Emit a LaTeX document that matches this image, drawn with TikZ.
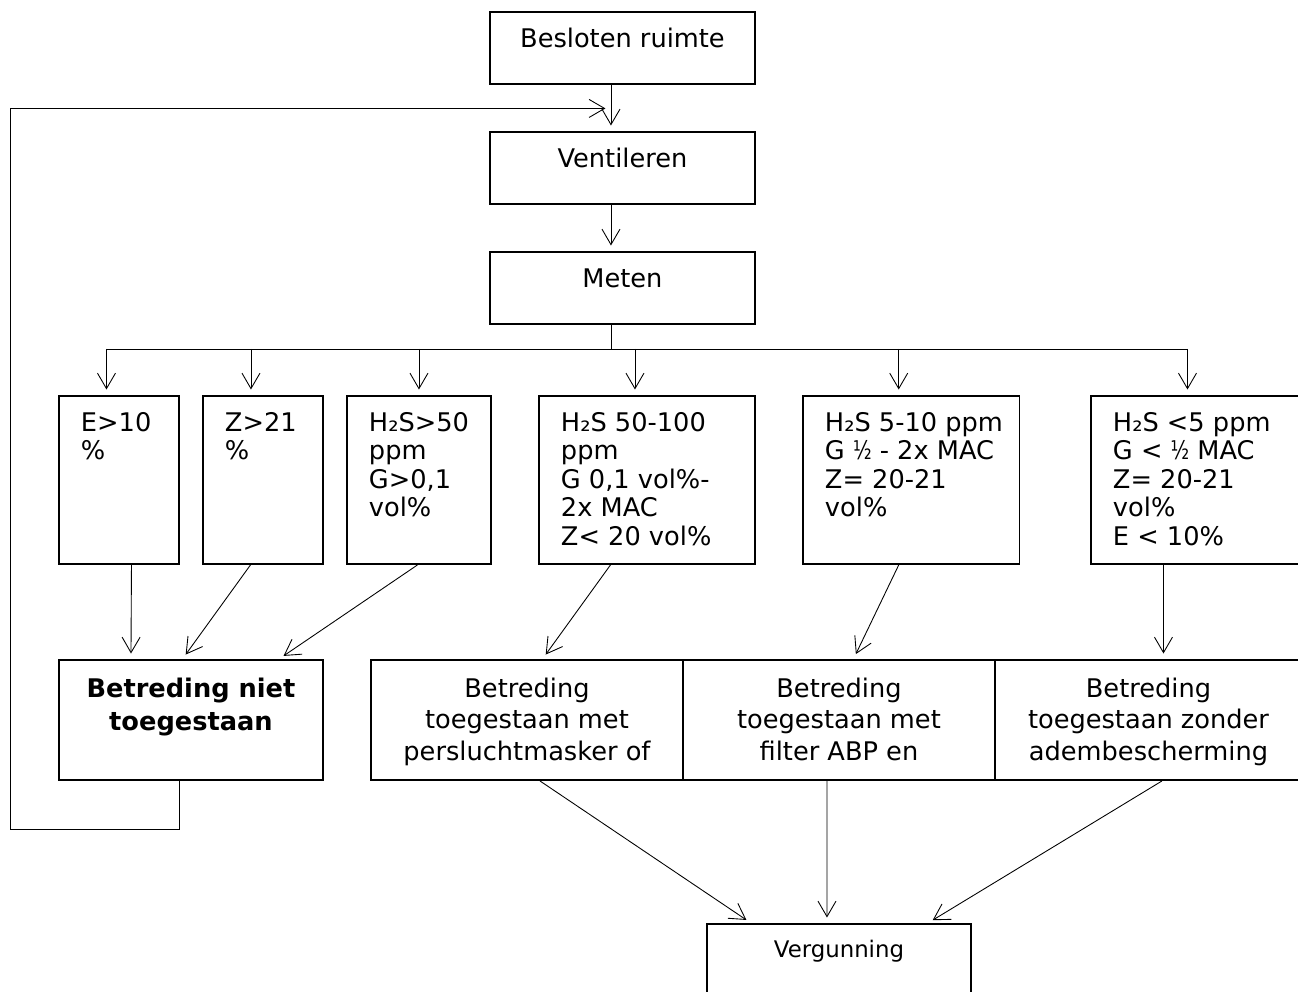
\documentclass[tikz,border=0pt]{standalone}
\usepackage{fontspec}
\usepackage{graphicx}
\setmainfont{DejaVu Sans}
\usetikzlibrary{arrows.meta}
% text block of a box: width, height, column (l or c), lines
\newcommand{\celltxt}[4]{\parbox[c][#2][t]{#1}{\vspace*{0.3cm}\ifx c#3\centering\fi\noindent\begin{tabular}[t]{@{}#3@{}}#4\end{tabular}}}
\newcommand{\half}{\scalebox{0.75}[1]{½}}
\begin{document}
\begin{tikzpicture}[font=\fontsize{14.6}{16.3}\selectfont,
  box/.style={draw,line width=1.1pt,inner xsep=0.44cm,inner ysep=0pt,anchor=north west},
  dec/.style={box,font=\fontsize{14.6}{18}\selectfont},
  arr/.style={-{Straight Barb[length=0.31cm,width=0.36cm]},line width=0.5pt,shorten >=0.11cm},
  line/.style={line width=0.5pt}]
\useasboundingbox (0,0) rectangle (25.96,-19.82);
\clip (0,0) rectangle (25.96,-19.82);
% top column
\node[box] (besl) at (9.78,-0.22) {\celltxt{4.42cm}{1.44cm}{c}{Besloten ruimte}};
\node[box] (vent) at (9.78,-2.62) {\celltxt{4.42cm}{1.44cm}{c}{Ventileren}};
\node[box] (meten) at (9.78,-5.02) {\celltxt{4.42cm}{1.44cm}{c}{Meten}};
% measured values
\node[box] (e10) at (1.16,-7.90) {\celltxt{1.52cm}{3.36cm}{l}{E>10\\ \%}};
\node[box] (z21) at (4.04,-7.90) {\celltxt{1.52cm}{3.36cm}{l}{Z>21\\ \%}};
\node[box] (h50) at (6.92,-7.90) {\celltxt{2.00cm}{3.36cm}{l}{H₂S>50\\ ppm\\ G>0,1\\ vol\%}};
\node[box] (h100) at (10.76,-7.90) {\celltxt{3.44cm}{3.36cm}{l}{H₂S 50-100\\ ppm\\ G 0,1 vol\%-\\ 2x MAC\\ Z< 20 vol\%}};
\node[box] (h10) at (16.04,-7.90) {\celltxt{3.45cm}{3.36cm}{l}{H₂S 5-10 ppm\\ G \half{} - 2x MAC\\ Z= 20-21\\ vol\%}};
\node[box] (h5) at (21.80,-7.90) {\celltxt{3.48cm}{3.36cm}{l}{H₂S <5 ppm\\ G < \half{} MAC\\ Z= 20-21\\ vol\%\\ E < 10\%}};
% decisions
\node[box,font=\fontsize{14.6}{18.5}\selectfont\bfseries] (niet) at (1.16,-13.18) {\celltxt{4.40cm}{2.40cm}{c}{Betreding niet\\ toegestaan}};
\node[dec] (pers) at (7.40,-13.18) {\celltxt{5.36cm}{2.40cm}{c}{Betreding\\ toegestaan met\\ persluchtmasker of}};
\node[dec] (abp) at (13.64,-13.18) {\celltxt{5.36cm}{2.40cm}{c}{Betreding\\ toegestaan met\\ filter ABP en}};
\node[dec] (zond) at (19.88,-13.18) {\celltxt{5.26cm}{2.40cm}{c}{Betreding\\ toegestaan zonder\\ adembescherming}};
\node[box,font=\fontsize{13}{15}\selectfont] (verg) at (14.12,-18.46) {\celltxt{4.40cm}{1.60cm}{c}{Vergunning}};
% connectors
\draw[arr] ([xshift=-0.23cm]besl.south) -- ([xshift=-0.23cm]vent.north);
\draw[arr] ([xshift=-0.23cm]vent.south) -- ([xshift=-0.23cm]meten.north);
\coordinate (bus) at ([xshift=-0.23cm,yshift=-0.48cm]meten.south);
\draw[line] ([xshift=-0.23cm]meten.south) -- (bus);
\foreach \b/\dx in {e10/-0.25,z21/-0.24,h50/0,h100/-0.24,h10/-0.25,h5/-0.25}{
  \coordinate (top-\b) at ([xshift=\dx cm]\b.north);
  \draw[arr] (top-\b |- bus) -- (top-\b);}
\draw[line] (top-e10 |- bus) -- (top-h5 |- bus);
\foreach \a/\da/\b/\db in {e10/0.25/niet/-1.20,z21/-0.25/niet/-0.17,h50/-0.03/niet/1.76,
  h100/-0.73/pers/0.31,h10/-0.25/abp/0.29,h5/-0.73/zond/0.30,
  pers/0.26/verg/-1.76,abp/-0.24/verg/-0.24,zond/0.27/verg/1.78}
  \draw[arr] ([xshift=\da cm]\a.south) -- ([xshift=\db cm]\b.north);
% back to ventileren
\coordinate (join) at ([xshift=-0.23cm,yshift=-0.47cm]besl.south);
\coordinate (fbl) at (0.20,0);
\draw[arr] ([xshift=-0.24cm]niet.south) -- ++(0,-0.96) -| (fbl |- join) -- (join);
\end{tikzpicture}
\end{document}
